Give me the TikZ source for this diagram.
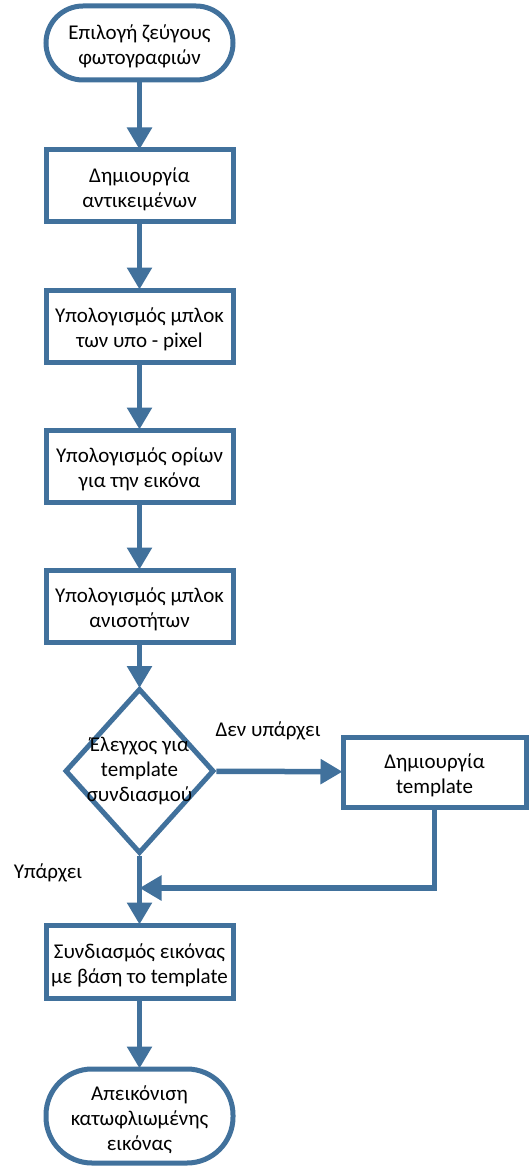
\documentclass[tikz,border=0pt]{standalone}
\usepackage{fontspec}
\setmainfont{Carlito}
\usetikzlibrary{shapes.geometric,arrows.meta}
\definecolor{flowblue}{HTML}{41719C}
% taller first line: sets the box text a little lower inside its frame
\newcommand{\tallstrut}{\rule{0pt}{22pt}}
\begin{document}
\begin{tikzpicture}[x=1pt,y=1pt,
  every node/.style={font=\fontsize{21}{25}\selectfont, align=center, text=black},
  stepbox/.style={draw=flowblue, line width=5pt, fill=white, minimum width=187pt, minimum height=72pt, inner sep=0pt},
  terminal/.style={draw=flowblue, line width=5pt, fill=white, rounded corners=#1, minimum width=187pt, inner sep=0pt},
  decision/.style={draw=flowblue, line width=5pt, fill=white, diamond, minimum width=149pt, minimum height=165pt, inner sep=0pt},
  flow/.style={draw=flowblue, line width=5.5pt, -{Triangle[length=22pt,width=24pt]}, shorten >=-2pt}
]
\useasboundingbox (0,0) rectangle (529,-1166);

% main column
\node[terminal=37pt, minimum height=74pt] (start) at (139.5,-43) {\tallstrut Επιλογή ζεύγους\\φωτογραφιών};
\node[stepbox] (b1) at (139.5,-186) {\tallstrut Δημιουργία\\αντικειμένων};
\node[stepbox] (b2) at (139.5,-326) {\tallstrut Υπολογισμός μπλοκ\\των υπο - pixel};
\node[stepbox] (b3) at (139.5,-466) {\tallstrut Υπολογισμός ορίων\\για την εικόνα};
\node[stepbox] (b4) at (139.5,-606) {\tallstrut Υπολογισμός μπλοκ\\ανισοτήτων};
\node[decision] (dec) at (139.5,-771) {};
\node (dectext) at (dec.center) {Έλεγχος για\\template\\συνδιασμού};
\node[stepbox, minimum width=183pt, minimum height=70pt] (tpl) at (434.5,-772) {\tallstrut Δημιουργία\\template};
\node[stepbox, minimum height=73pt] (b5) at (139.5,-961.5) {\tallstrut Συνδιασμός εικόνας\\με βάση το template};
\node[terminal=46pt, minimum height=94pt] (end) at (139.5,-1116) {\tallstrut Απεικόνιση\\κατωφλιωμένης\\εικόνας};

% branch labels
\node (no) at (268,-731) {Δεν υπάρχει};
\node (yes) at (48,-873) {Υπάρχει};

% connectors
\coordinate (merge) at (139.5,-888);
\draw[flow] (start) -- (b1);
\draw[flow] (b1) -- (b2);
\draw[flow] (b2) -- (b3);
\draw[flow] (b3) -- (b4);
\draw[flow] (b4) -- (dec);
\draw[flow] (dec) -- (tpl);
\draw[flow] (dec) -- (b5);
\draw[flow, shorten >=0pt] (tpl.south) |- (merge);
\draw[flow] (b5) -- (end);
\end{tikzpicture}
\end{document}
